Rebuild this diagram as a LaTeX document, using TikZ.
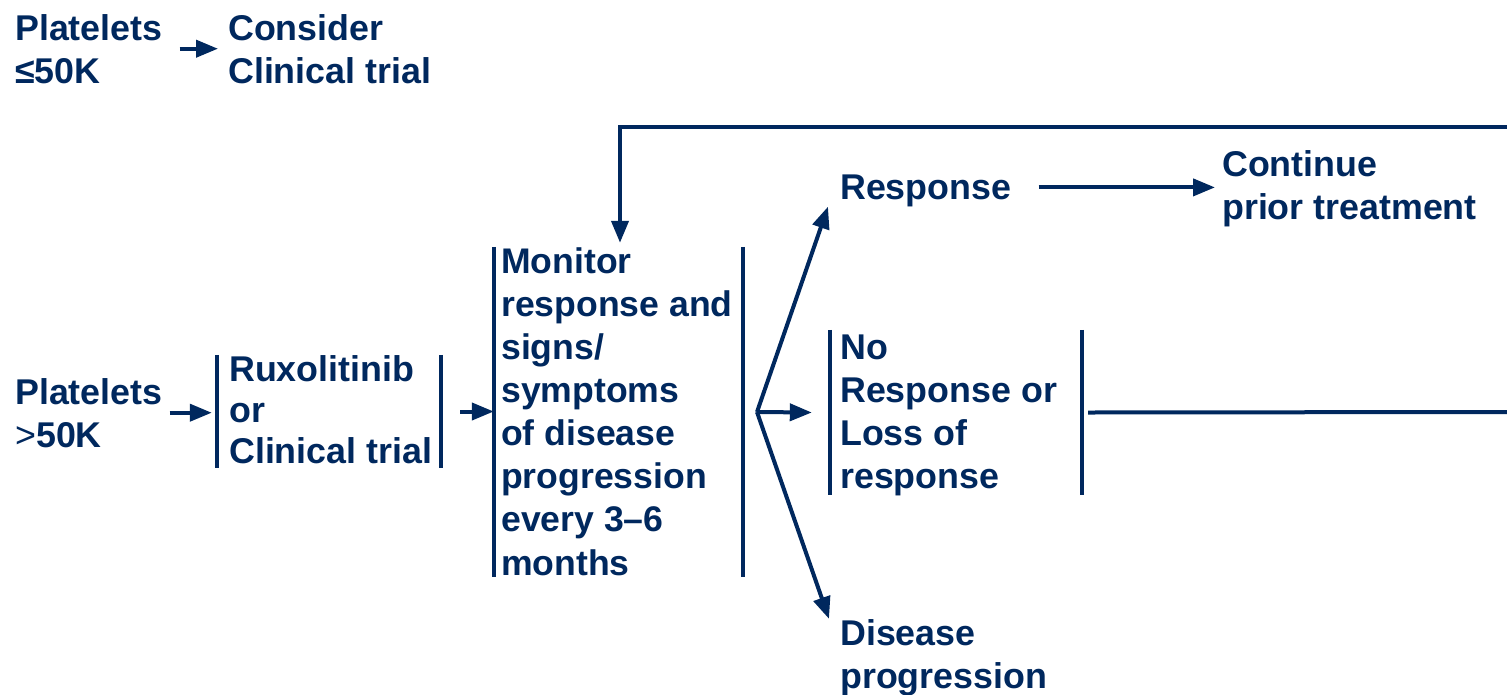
\documentclass[tikz,border=0pt]{standalone}
\usepackage{fontspec}
\setmainfont{Liberation Sans}
\usetikzlibrary{arrows.meta}
\definecolor{navy}{RGB}{0,40,94}
\begin{document}
\begin{tikzpicture}[x=1pt,y=-1pt,
  txt/.style={anchor=base west, inner sep=0pt, align=left, text=navy,
              font=\fontsize{35.8}{43}\selectfont\bfseries},
  bracketbox/.style={inner sep=0pt, draw=none},
  bar/.style={draw=navy, line width=4.2pt},
  arr/.style={draw=navy, line width=4pt, -{Triangle[length=22pt,width=17pt]}},
  ln/.style={draw=navy, line width=4pt}]
\useasboundingbox[fill=white] (0,0) rectangle (1507,694);

% text nodes (anchored at the baseline of their last line)
\node[txt] (p1) at (15,83) {Platelets\\≤50K};
\node[txt] (con) at (228,83) {Consider\\Clinical trial};
\node[txt] (p2) at (15,447) {Platelets\\{\mdseries >}50K};
\node[txt, font=\fontsize{35.8}{41}\selectfont\bfseries] (rux) at (229,463) {Ruxolitinib\\or\\Clinical trial};
\node[txt, font=\fontsize{35.6}{43.1}\selectfont\bfseries] (mon) at (501,575)
  {Monitor\\response and\\signs/\\symptoms\\of disease\\progression\\every 3–6\\months};
\node[txt] (resp) at (840,199) {Response};
\node[txt] (cont) at (1222,219) {Continue\\prior treatment};
\node[txt, font=\fontsize{35.8}{42.7}\selectfont\bfseries] (nr) at (840,488) {No\\Response or\\Loss of\\response};
\node[txt] (dis) at (840,688) {Disease\\progression};

% bracket boxes
\node[bracketbox, minimum width=224pt, minimum height=113pt] (ruxb) at (329,411.5) {};
\node[bracketbox, minimum width=249pt, minimum height=330pt] (monb) at (618.5,412) {};
\node[bracketbox, minimum width=252pt, minimum height=165pt] (nob) at (956,412.5) {};
\foreach \b in {ruxb,monb,nob}{
  \draw[bar] (\b.north west) -- (\b.south west);
  \draw[bar] (\b.north east) -- (\b.south east);
}

% coordinates
\coordinate (br) at (757,412);
\coordinate (fbR) at (1507,127);
\coordinate (nrR) at (1507,412);

% connectors
\draw[arr] ([xshift=17]p1.east) -- ([xshift=-10]p1.east -| con.west);
\draw[arr] ([xshift=7]p2.east) -- ([xshift=-5]p2.east -| ruxb.west);
\draw[arr] ([xshift=19]ruxb.east) -- (ruxb.east -| monb.west);
\draw[arr] (br) -- ([xshift=-12]resp.south west);
\draw[arr] (br) -- ([xshift=-18]nob.west);
\draw[arr] (br) -- ([xshift=-11]dis.north west);
\draw[arr] ([xshift=27,yshift=3]resp.east) -- ([xshift=-7,yshift=3]resp.east -| cont.west);
\draw[arr] (fbR) -| ([xshift=1.5,yshift=4]monb.north);
\draw[ln] ([xshift=6]nob.east) -- (nrR);
\end{tikzpicture}
\end{document}
